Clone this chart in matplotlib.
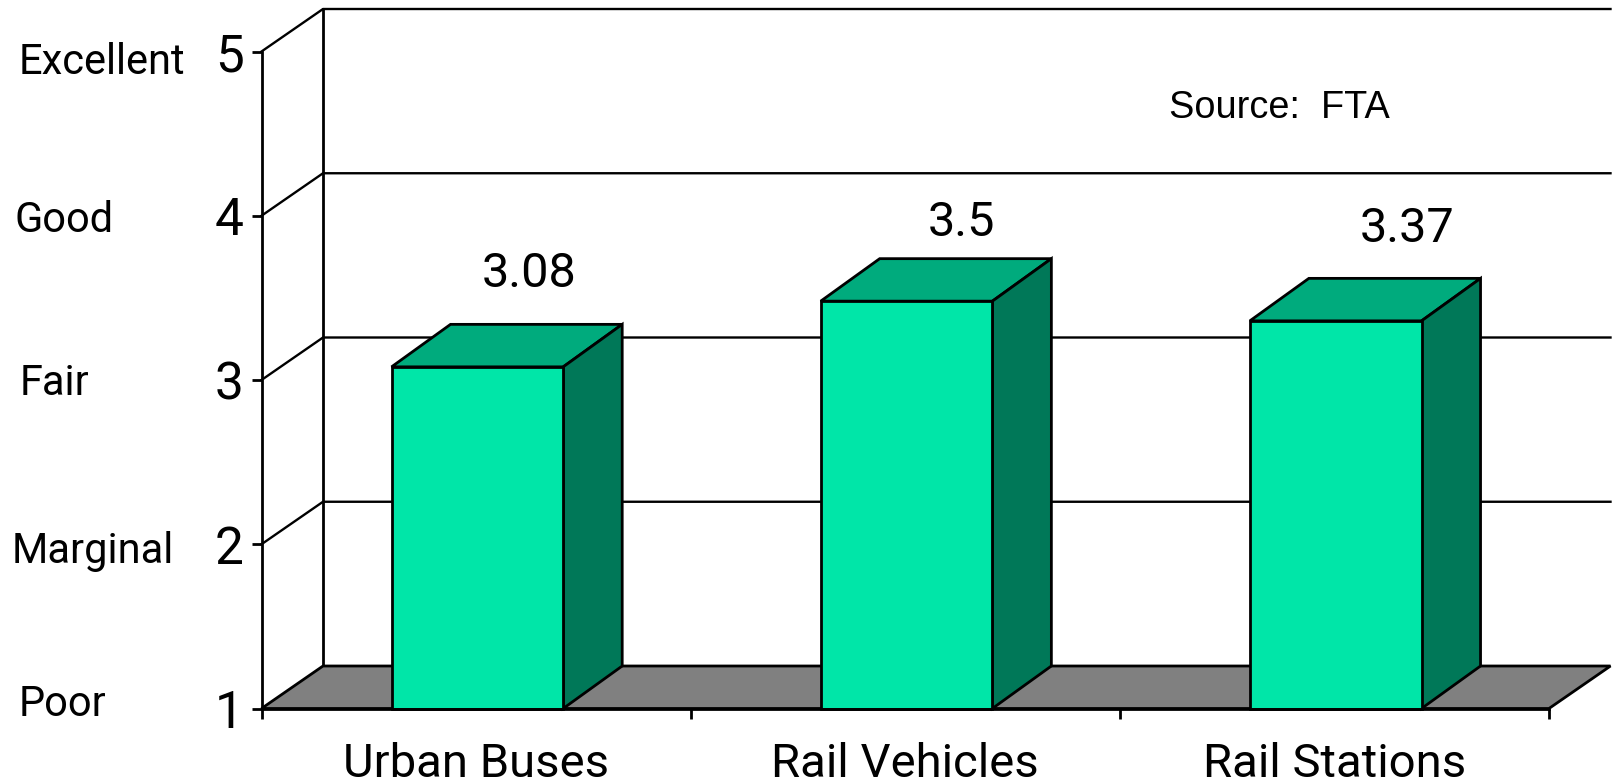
import numpy as np
import matplotlib
matplotlib.use("Agg")
import matplotlib.pyplot as plt
from matplotlib.patches import Polygon

categories = ["Urban Buses", "Rail Vehicles", "Rail Stations"]
# bar tops, labels as printed on it
values = [3.08, 3.48, 3.36]
value_labels = ["3.08", "3.5", "3.37"]
y_ticks = [1, 2, 3, 4, 5]
ratings = ["Poor", "Marginal", "Fair", "Good", "Excellent"]

W, H = 1614, 783
FRONT = "#00E6A8"
TOP = "#00AB7D"
SIDE = "#007858"
FLOOR = "#808080"
LW = 2.0
plt.rcParams["font.family"] = ["Roboto", "DejaVu Sans"]

fig = plt.figure(figsize=(W / 100, H / 100), dpi=100)
fig.patch.set_facecolor("white")

# axes box is the front plane of the fake 3d chart, in pixels
left, right, top, bottom = 261.5, 1549, 51.5, 708.5
ax = fig.add_axes([left / W, 1 - bottom / H, (right - left) / W, (bottom - top) / H])
ax.set_xlim(0, 3)
ax.set_ylim(1, 5)
ax.patch.set_visible(False)

dx = 61.5 / ((right - left) / 3)
dy = 42.5 / ((bottom - top) / 4)
bar_dx = 59 / ((right - left) / 3)

# back wall and gridlines
for t in y_ticks[1:]:
    ax.plot([0, dx, 3 + dx], [t, t + dy, t + dy], color="black", lw=LW - 0.3, clip_on=False, zorder=1)
ax.plot([dx, dx], [1 + dy, 5 + dy], color="black", lw=LW, clip_on=False, zorder=1)

# floor
ax.add_patch(Polygon([(0, 1), (3, 1), (3 + dx, 1 + dy), (dx, 1 + dy)], closed=True,
                     fc=FLOOR, ec="black", lw=LW, clip_on=False, zorder=2))

x = np.arange(len(categories)) + 0.503
bar_w = 0.4
ax.bar(x, np.array(values) - 1, bottom=1, width=bar_w, color=FRONT, edgecolor="black",
       linewidth=LW, zorder=4, clip_on=False)
for xc, v in zip(x, values):
    l = xc - bar_w / 2
    r = xc + bar_w / 2
    ax.add_patch(Polygon([(l, v), (r, v), (r + bar_dx, v + dy), (l + bar_dx, v + dy)], closed=True,
                         fc=TOP, ec="black", lw=LW, clip_on=False, zorder=3))
    ax.add_patch(Polygon([(r, 1), (r + bar_dx, 1 + dy), (r + bar_dx, v + dy), (r, v)], closed=True,
                         fc=SIDE, ec="black", lw=LW, clip_on=False, zorder=3))

for s in ["top", "right"]:
    ax.spines[s].set_visible(False)
for s in ["left", "bottom"]:
    ax.spines[s].set_linewidth(LW)
    ax.spines[s].set_zorder(5)

ax.set_yticks(y_ticks)
ax.set_yticklabels([str(t) for t in y_ticks], fontsize=37)
ax.tick_params(axis="y", length=7, width=LW, pad=6)
ax.set_xticks([0, 1, 2, 3])
ax.set_xticklabels([])
ax.tick_params(axis="x", which="major", length=7, width=LW)
ax.set_xticks([0.5, 1.5, 2.5], minor=True)
ax.set_xticklabels(categories, minor=True, fontsize=34)
ax.tick_params(axis="x", which="minor", length=0, pad=24)


def px(x0, y0):
    return x0 / W, 1 - y0 / H


# value labels were hand placed in the original
label_pos = [(529, 274), (961, 223), (1407, 229)]
for txt, (a, b) in zip(value_labels, label_pos):
    fig.text(*px(a, b), txt, fontsize=35, ha="center", va="center")

rating_pos = [(18.5, 704), (12, 552), (19.5, 384), (14.5, 220), (18.5, 63)]
for txt, (a, b) in zip(ratings, rating_pos):
    fig.text(*px(a, b), txt, fontsize=30, ha="left", va="center")

fig.text(*px(1169, 108), "Source:  FTA", fontsize=27.3, family="Liberation Sans", ha="left", va="center")

fig.savefig("out.png", dpi=100)
